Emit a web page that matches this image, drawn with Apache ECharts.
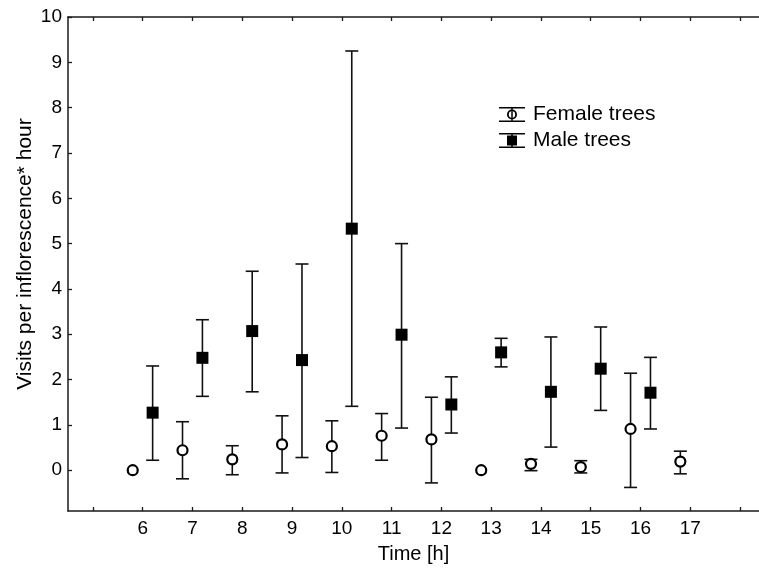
<!DOCTYPE html>
<html>
<head>
<meta charset="utf-8">
<script src="https://cdn.jsdelivr.net/npm/echarts@6/dist/echarts.min.js"></script>
<style>html,body{margin:0;padding:0;background:#fff}#c{width:759px;height:569px}</style>
</head>
<body>
<div id="c"></div>
<script>
const hours = [6, 7, 8, 9, 10, 11, 12, 13, 14, 15, 16, 17];
const femaleMean = [0, 0.44, 0.24, 0.57, 0.53, 0.76, 0.68, 0, 0.14, 0.07, 0.91, 0.19];
const femaleLow  = [0, -0.19, -0.10, -0.06, -0.05, 0.22, -0.28, 0, -0.01, -0.06, -0.38, -0.08];
const femaleHigh = [0, 1.07, 0.54, 1.20, 1.09, 1.25, 1.61, 0, 0.24, 0.21, 2.14, 0.42];
const maleHours = [6, 7, 8, 9, 10, 11, 12, 13, 14, 15, 16];
const maleMean = [1.27, 2.48, 3.07, 2.43, 5.33, 2.99, 1.45, 2.60, 1.73, 2.24, 1.71];
const maleLow  = [0.22, 1.63, 1.73, 0.28, 1.41, 0.93, 0.82, 2.28, 0.51, 1.32, 0.91];
const maleHigh = [2.30, 3.32, 4.39, 4.55, 9.25, 5.00, 2.06, 2.91, 2.94, 3.16, 2.49];
const xTickValues = [5, 6, 7, 8, 9, 10, 11, 12, 13, 14, 15, 16, 17, 18];
const xLabelValues = [6, 7, 8, 9, 10, 11, 12, 13, 14, 15, 16, 17];
const yTickValues = [0, 1, 2, 3, 4, 5, 6, 7, 8, 9, 10];

const FEMALE_OFFSET = -0.2, MALE_OFFSET = 0.2;
const FONT = '"Liberation Sans", Arial, Helvetica, sans-serif';
const AX = '#1a1a1a';

const femalePts = hours.map((h, i) => [h + FEMALE_OFFSET, femaleMean[i]]);
const femaleErr = hours.map((h, i) => [h + FEMALE_OFFSET, femaleLow[i], femaleHigh[i]]);
const malePts = maleHours.map((h, i) => [h + MALE_OFFSET, maleMean[i]]);
const maleErr = maleHours.map((h, i) => [h + MALE_OFFSET, maleLow[i], maleHigh[i]]);

function errRender(params, api) {
  const x = api.value(0), lo = api.value(1), hi = api.value(2);
  if (lo === hi) return { type: 'group', children: [] };
  const p1 = api.coord([x, hi]), p2 = api.coord([x, lo]);
  const hw = 6.5;
  const style = { stroke: '#111', lineWidth: 1.6, fill: null };
  return { type: 'group', children: [
    { type: 'line', shape: { x1: p1[0], y1: p1[1], x2: p2[0], y2: p2[1] }, style },
    { type: 'line', shape: { x1: p1[0] - hw, y1: p1[1], x2: p1[0] + hw, y2: p1[1] }, style },
    { type: 'line', shape: { x1: p2[0] - hw, y1: p2[1], x2: p2[0] + hw, y2: p2[1] }, style }
  ]};
}

const femaleIcon = 'path://M0 0H26V1.5H0Z M0 13.5H26V15H0Z M12.25 1.5H13.75V2.5H12.25Z M12.25 12.5H13.75V13.5H12.25Z ' +
  'M8 7.5A5 5 0 1 1 18 7.5A5 5 0 1 1 8 7.5Z M9.8 7.5A3.2 3.2 0 1 0 16.2 7.5A3.2 3.2 0 1 0 9.8 7.5Z M12.25 4.4H13.75V10.6H12.25Z';
const maleIcon = 'path://M0 0H26V1.5H0Z M0 13.5H26V15H0Z M12.25 1.5H13.75V2.5H12.25Z M12.25 12.5H13.75V13.5H12.25Z M8 2.5H18V12.5H8Z';

const chart = echarts.init(document.getElementById('c'), null, { renderer: 'canvas' });
chart.setOption({
  animation: false,
  backgroundColor: '#fff',
  textStyle: { fontFamily: FONT },
  grid: { left: 68, top: 17, right: 0, bottom: 58, containLabel: false },
  legend: {
    orient: 'vertical', left: 499, top: 104, padding: 0, itemWidth: 26, itemHeight: 15, itemGap: 5,
    textStyle: { fontFamily: FONT, fontSize: 21, color: '#000', padding: [0, 0, 0, 3] },
    data: [
      { name: 'Female trees', icon: femaleIcon, itemStyle: { color: '#000', borderWidth: 0 } },
      { name: 'Male trees', icon: maleIcon, itemStyle: { color: '#000', borderWidth: 0 } }
    ],
    selectedMode: false
  },
  xAxis: [{
    type: 'value', position: 'bottom', min: 4.5, max: 18.38,
    name: 'Time [h]', nameLocation: 'middle', nameGap: 33, nameMoveOverlap: false,
    nameTextStyle: { fontFamily: FONT, fontSize: 20, color: '#000' },
    axisLine: { show: true, onZero: false, lineStyle: { color: AX, width: 1.5 } },
    axisTick: { show: true, inside: true, length: 4, customValues: xTickValues, lineStyle: { color: AX, width: 1.3 } },
    axisLabel: { show: true, customValues: xLabelValues, margin: 8, fontFamily: FONT, fontSize: 19, color: '#000' },
    splitLine: { show: false }
  }, {
    type: 'value', position: 'top', min: 4.5, max: 18.38,
    axisLine: { show: true, onZero: false, lineStyle: { color: AX, width: 1.5 } },
    axisTick: { show: true, inside: true, length: 4, customValues: xTickValues, lineStyle: { color: AX, width: 1.3 } },
    axisLabel: { show: false },
    splitLine: { show: false }
  }],
  yAxis: {
    type: 'value', min: -0.9, max: 10,
    name: 'Visits per inflorescence* hour', nameLocation: 'middle', nameGap: 32, nameMoveOverlap: false,
    nameTextStyle: { fontFamily: FONT, fontSize: 21, color: '#000', padding: [0, 0, 0, 20] },
    axisLine: { show: true, onZero: false, lineStyle: { color: AX, width: 1.5 } },
    axisTick: { show: true, inside: true, length: 4, customValues: yTickValues, lineStyle: { color: AX, width: 1.3 } },
    axisLabel: { show: true, customValues: yTickValues, margin: 6, fontFamily: FONT, fontSize: 19, color: '#000' },
    splitLine: { show: false }
  },
  series: [
    { type: 'custom', name: 'femaleErr', renderItem: errRender, data: femaleErr, encode: { x: 0, y: [1, 2] }, z: 2, silent: true },
    { type: 'custom', name: 'maleErr', renderItem: errRender, data: maleErr, encode: { x: 0, y: [1, 2] }, z: 2, silent: true },
    { type: 'scatter', name: 'Female trees', data: femalePts, symbol: 'circle', symbolSize: 10,
      itemStyle: { color: '#fff', borderColor: '#000', borderWidth: 2.2, opacity: 1 }, z: 5 },
    { type: 'scatter', name: 'Male trees', data: malePts, symbol: 'rect', symbolSize: 12,
      itemStyle: { color: '#000', opacity: 1 }, z: 5 }
  ]
});
</script>
</body>
</html>
